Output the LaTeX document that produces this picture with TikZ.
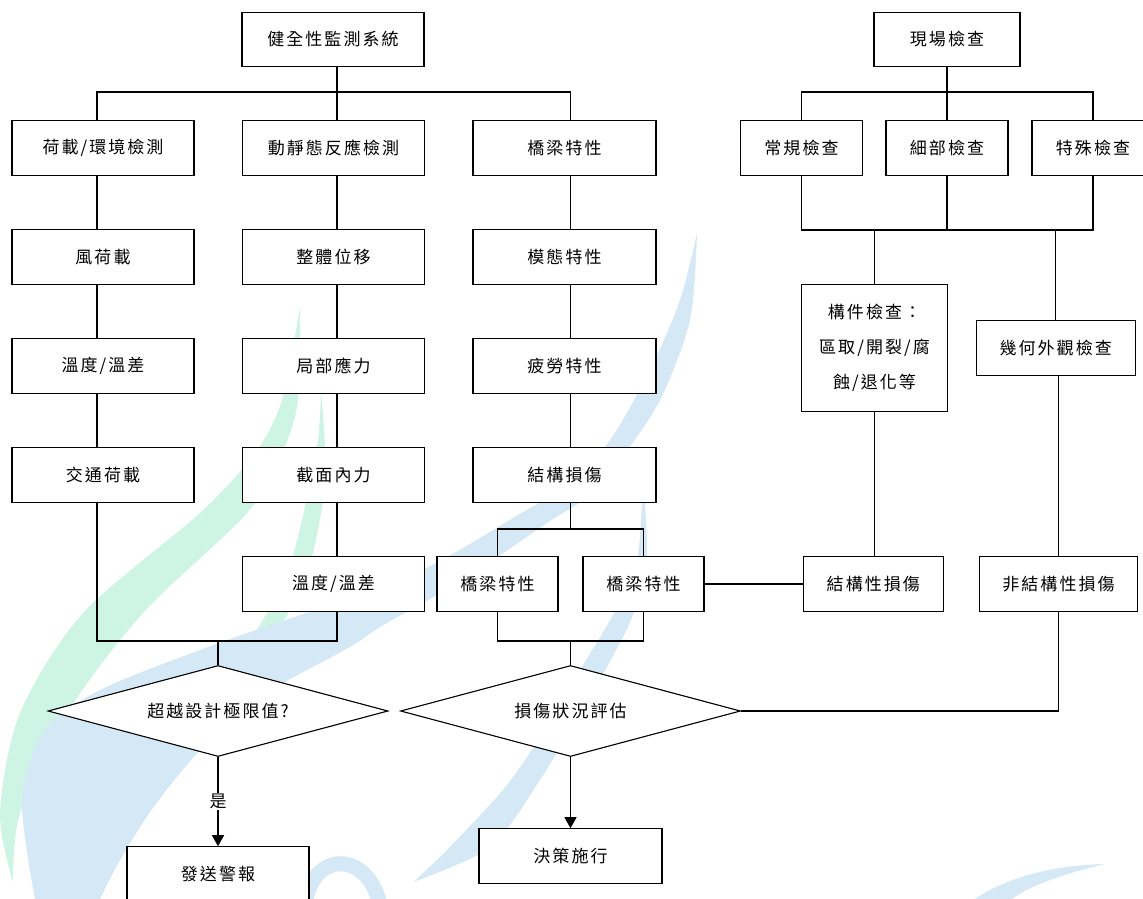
\documentclass[tikz,border=0pt]{standalone}
\usepackage{fontspec}
\newfontfamily\cjk{Noto Sans CJK TC}[LetterSpace=12]
\usetikzlibrary{shapes.geometric,arrows.meta}
\definecolor{markblue}{RGB}{212,232,246}
\definecolor{markgreen}{RGB}{206,244,230}

\begin{document}
\begin{tikzpicture}[x=1pt,y=-1pt,line width=1.1pt,
    font=\cjk\fontsize{17}{35}\selectfont]
    \tikzstyle{box node}=[rectangle,draw,fill=white,minimum height=54.5,inner sep=0]
    \tikzstyle{wide node}=[box node,minimum width=182]
    \tikzstyle{check node}=[box node,minimum width=122]
    \tikzset{
    decision node/.style={diamond,draw,fill=white,aspect=3.7,minimum width=340,minimum height=91,inner sep=0},
    flow arrow/.style={-{Triangle[length=11,width=12]}}
    }
    \useasboundingbox (0,0) rectangle (1143,899);

    % background swooshes
    \fill[markgreen] plot[smooth] coordinates {(13,882) (0,813) (20,713) (83,613) (200,513) (255,453) (282,400) (300,307)}
      -- plot[smooth] coordinates {(300,307) (298,400) (282,453) (247,513) (143,613) (67,713) (20,813) (13,882)} -- cycle;
    \fill[markgreen] plot[smooth] coordinates {(223,677) (250,640) (285,580) (305,507) (318,440) (321,390)}
      -- plot[smooth] coordinates {(321,390) (325,450) (322,507) (305,580) (270,640) (223,677)} -- cycle;
    \fill[markblue] plot[smooth] coordinates {(35,899) (22,800) (45,730) (100,690) (200,650) (300,615) (380,590) (447,557) (513,518) (567,485) (610,440) (650,370) (680,300) (697,233)}
      -- plot[smooth] coordinates {(697,233) (690,320) (660,400) (620,460) (587,497) (547,523) (463,580) (380,627) (350,647) (267,693) (205,745) (155,805) (120,860) (100,899)} -- cycle;
    \fill[markblue] plot[smooth] coordinates {(413,882) (447,850) (507,785) (553,717) (580,670) (613,615) (637,560) (643,480)}
      -- plot[smooth] coordinates {(643,480) (647,560) (633,615) (607,667) (580,713) (540,780) (490,847) (413,882)} -- cycle;
    \draw[markblue,line width=15] (305,905) .. controls (312,850) and (368,850) .. (380,905);
    \fill[markblue] (975,899) .. controls (1010,875) and (1060,865) .. (1105,864)
      .. controls (1070,872) and (1030,885) .. (1012,899) -- cycle;

    % monitoring side
    \node[wide node] (hms) at (333,39.5) {健全性監測系統};
    \node[wide node] (load) at (103,148) {荷載/環境檢測};
    \node[wide node] (resp) at (333.5,148) {動靜態反應檢測};
    \node[wide node,minimum width=183] (bridge) at (564.5,148) {橋梁特性};
    \node[wide node] (wind) at (103,257) {風荷載};
    \node[wide node] (disp) at (333.5,257) {整體位移};
    \node[wide node,minimum width=183] (modal) at (564.5,257) {模態特性};
    \node[wide node] (temp) at (103,366) {溫度/溫差};
    \node[wide node] (stress) at (333.5,366) {局部應力};
    \node[wide node,minimum width=183] (fatigue) at (564.5,366) {疲勞特性};
    \node[wide node] (traffic) at (103,475) {交通荷載};
    \node[wide node] (force) at (333.5,475) {截面內力};
    \node[wide node,minimum width=183] (damage) at (564.5,475) {結構損傷};
    \node[wide node] (temp2) at (333.5,584) {溫度/溫差};
    \node[box node,minimum width=121] (bridgeA) at (497.5,584) {橋梁特性};
    \node[box node,minimum width=121] (bridgeB) at (643.5,584) {橋梁特性};

    % inspection side
    \node[box node,minimum width=146] (site) at (947,39.5) {現場檢查};
    \node[check node] (routine) at (801.5,148) {常規檢查};
    \node[check node] (detail) at (947,148) {細部檢查};
    \node[check node] (special) at (1093,148) {特殊檢查};
    \node[box node,minimum width=146,minimum height=127,align=center] (member) at (874.5,347.8)
      {構件檢查：\\區取/開裂/腐\\蝕/退化等};
    \node[box node,minimum width=159] (geo) at (1055.7,348) {幾何外觀檢查};
    \node[box node,minimum width=140] (sdmg) at (873.3,584) {結構性損傷};
    \node[box node,minimum width=158] (nsdmg) at (1058.5,584) {非結構性損傷};

    % decisions and results
    \node[decision node] (limit) at (218,711) {超越設計極限值?};
    \node[decision node] (assess) at (570.5,711) {損傷狀況評估};
    \node[wide node] (alarm) at (218,874) {發送警報};
    \node[wide node,minimum width=183] (decide) at (570.5,856) {決策施行};

    % connectors
    \coordinate (c1) at (97,0);
    \coordinate (c2) at (337,0);
    \coordinate (c3) at (570.5,0);
    \foreach \a/\b/\c in {hms/resp/c2, load/wind/c1, wind/temp/c1, temp/traffic/c1,
        resp/disp/c2, disp/stress/c2, stress/force/c2, force/temp2/c2,
        bridge/modal/c3, modal/fatigue/c3, fatigue/damage/c3}
      \draw (\a.south -| \c) -- (\b.north -| \c);
    \coordinate (top1) at (337,92);
    \draw (load.north -| c1) |- (top1) -| (bridge.north -| c3);

    \draw (site.south) -- (detail.north);
    \coordinate (top2) at (947,92);
    \draw (routine.north) |- (top2) -| (special.north);
    \coordinate (mid2) at (947,230);
    \draw (routine.south) |- (mid2) -| (special.south);
    \draw (detail.south) -- (mid2);
    \draw (member.north) -- (member.north |- mid2);
    \draw (geo.north) -- (geo.north |- mid2);
    \draw (member.south) -- (member.south |- sdmg.north);
    \draw (nsdmg.north) -- (nsdmg.north |- geo.south);
    \draw (sdmg) -- (bridgeB);

    \coordinate (split) at (570.5,529);
    \draw (damage.south -| c3) -- (split);
    \draw (bridgeA.north) |- (split) -| (bridgeB.north);
    \coordinate (join) at (570.5,641);
    \draw (bridgeA.south) |- (join) -| (bridgeB.south);
    \draw (join) -- (assess.north);

    \coordinate (merge) at (218,641);
    \draw (traffic.south -| c1) |- (merge) -| (temp2.south -| c2);
    \draw (merge) -- (limit.north);

    \draw[flow arrow] (limit.south) -- node[fill=white,inner sep=1]{是} (alarm.north);
    \draw[flow arrow] (assess.south) -- (decide.north);
    \draw (assess.east) -| (nsdmg.south);
\end{tikzpicture}
\end{document}
